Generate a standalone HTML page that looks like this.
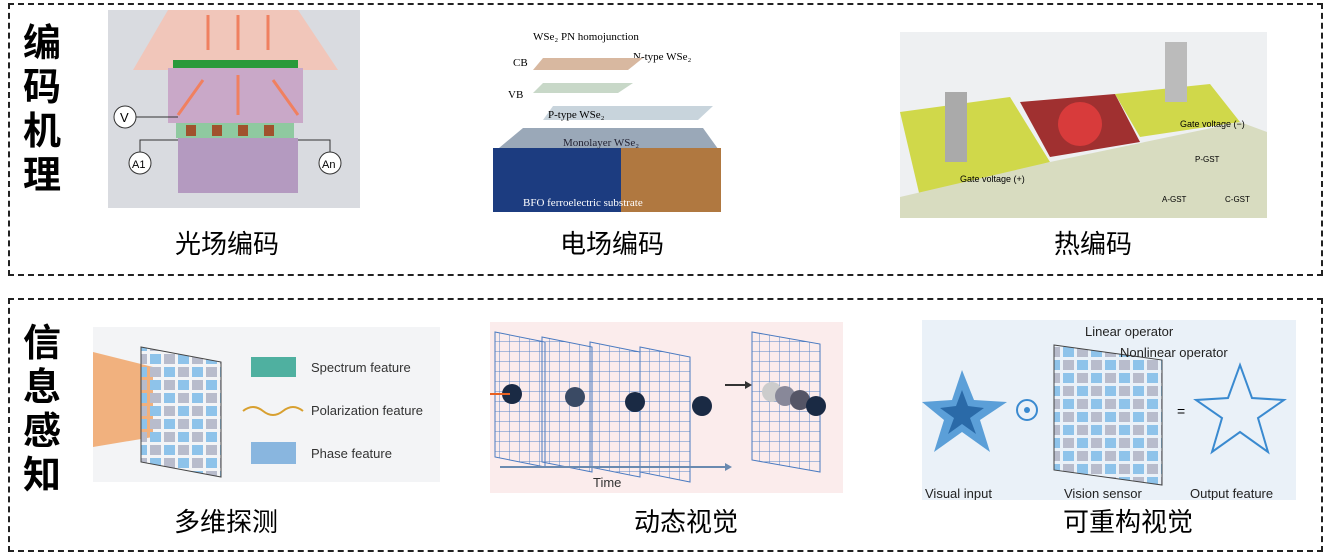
<!DOCTYPE html>
<html><head><meta charset="utf-8"><style>
body{margin:0;width:1327px;height:555px;background:#fff;position:relative;overflow:hidden;font-family:"Liberation Sans","Noto Sans CJK SC",sans-serif}
.box{position:absolute;border:2.5px dashed #222;}
.v{position:absolute;font-size:38px;font-weight:bold;line-height:44px;width:44px;text-align:center;font-family:"Noto Sans CJK SC",sans-serif}
.lab{position:absolute;font-size:26px;transform:translateX(-50%);white-space:nowrap;font-family:"Noto Sans CJK SC",sans-serif}
.p{position:absolute}
</style></head><body>
<svg width="0" height="0" style="position:absolute">
<defs>
<pattern id="grid" width="10" height="10" patternUnits="userSpaceOnUse"><path d="M10,0V10M0,10H10" stroke="#5a86c8" stroke-width="1" fill="none"/></pattern>
<pattern id="cells" width="14" height="13" patternUnits="userSpaceOnUse"><rect x="1" y="1" width="11" height="10" fill="#8ec3ea"/></pattern>
<pattern id="cells2" width="28" height="26" patternUnits="userSpaceOnUse"><rect x="1" y="1" width="11" height="10" fill="#8ec3ea"/><rect x="15" y="1" width="11" height="10" fill="#b8bccc"/><rect x="1" y="14" width="11" height="10" fill="#b8bccc"/><rect x="15" y="14" width="11" height="10" fill="#8ec3ea"/></pattern>
</defs></svg>
<div class="box" style="left:8px;top:3px;width:1311px;height:269px"></div>
<div class="box" style="left:8px;top:298px;width:1311px;height:250px"></div>
<div class="v" style="left:20px;top:18px">编<br>码<br>机<br>理</div>
<div class="v" style="left:20px;top:318px">信<br>息<br>感<br>知</div>

<svg class="p" style="left:108px;top:10px" width="252" height="198">
<rect width="252" height="198" fill="#d9dbe0"/>
<polygon points="60,0 190,0 230,60 25,60" fill="#f6c0b0" opacity=".8"/>
<rect x="65" y="50" width="125" height="8" fill="#2a9a3a"/>
<rect x="60" y="58" width="135" height="55" fill="#c9a8c8"/>
<rect x="68" y="113" width="118" height="15" fill="#8fc9a0"/>
<g fill="#a0522d"><rect x="78" y="115" width="10" height="11"/><rect x="104" y="115" width="10" height="11"/><rect x="130" y="115" width="10" height="11"/><rect x="156" y="115" width="10" height="11"/></g>
<rect x="70" y="128" width="120" height="55" fill="#b49ac0"/>
<circle cx="17" cy="107" r="11" fill="#fff" stroke="#333"/><text x="12" y="112" font-size="13">V</text>
<circle cx="32" cy="153" r="11" fill="#fff" stroke="#333"/><text x="24" y="158" font-size="11">A1</text>
<circle cx="222" cy="153" r="11" fill="#fff" stroke="#333"/><text x="214" y="158" font-size="11">An</text>
<path d="M28,107H70M32,142V130H70M222,142V130H190" stroke="#333" fill="none"/>
<g stroke="#f08060" stroke-width="3"><path d="M130,5V40M100,5V40M160,5V40M130,65V105M95,70L70,105M165,70L190,105"/></g>
</svg>

<svg class="p" style="left:493px;top:28px" width="228" height="184">
<text x="40" y="12" font-size="11" font-family="Liberation Serif">WSe₂ PN homojunction</text>
<text x="20" y="38" font-size="11" font-family="Liberation Serif">CB</text>
<text x="140" y="32" font-size="11" font-family="Liberation Serif">N-type WSe₂</text>
<polygon points="50,30 150,30 135,42 40,42" fill="#d8b8a0"/>
<polygon points="50,55 140,55 125,65 40,65" fill="#c8d8c8"/>
<text x="15" y="70" font-size="11" font-family="Liberation Serif">VB</text>
<polygon points="60,78 220,78 205,92 50,92" fill="#c8d4dc"/>
<text x="55" y="90" font-size="11" font-family="Liberation Serif">P-type WSe₂</text>
<polygon points="30,100 210,100 228,125 0,125" fill="#9aa8b8"/>
<rect x="0" y="120" width="128" height="64" fill="#1c3c80"/>
<rect x="128" y="120" width="100" height="64" fill="#b07840"/>
<text x="70" y="118" font-size="11" font-family="Liberation Serif" fill="#223">Monolayer WSe₂</text>
<text x="30" y="178" font-size="11" font-family="Liberation Serif" fill="#fff">BFO ferroelectric substrate</text>
</svg>

<svg class="p" style="left:900px;top:32px" width="367" height="186">
<rect width="367" height="186" fill="#eef0f2"/>
<polygon points="0,80 110,65 150,130 20,165" fill="#d0d84a"/>
<polygon points="120,70 215,62 240,110 150,125" fill="#a03030"/>
<circle cx="180" cy="92" r="22" fill="#f04040" opacity=".7"/>
<polygon points="215,62 310,52 340,90 240,105" fill="#d0d84a"/>
<path d="M0,165 L150,130 L340,90 L367,100 L367,186 L0,186Z" fill="#d8dcc0"/>
<rect x="45" y="60" width="22" height="70" fill="#aaa"/>
<rect x="265" y="10" width="22" height="60" fill="#bbb"/>
<text x="280" y="95" font-size="9">Gate voltage (−)</text>
<text x="60" y="150" font-size="9">Gate voltage (+)</text>
<text x="295" y="130" font-size="8">P-GST</text>
<text x="262" y="170" font-size="8">A-GST</text><text x="325" y="170" font-size="8">C-GST</text>
</svg>

<div class="lab" style="left:227px;top:224px">光场编码</div>
<div class="lab" style="left:612px;top:224px">电场编码</div>
<div class="lab" style="left:1093px;top:224px">热编码</div>

<svg class="p" style="left:93px;top:327px" width="347" height="155">
<rect width="347" height="155" fill="#f3f4f6"/>
<polygon points="0,25 60,40 60,110 0,120" fill="#f0a060" opacity=".8"/>
<polygon points="48,20 128,35 128,150 48,135" fill="url(#cells2)" stroke="#444"/>
<rect x="158" y="30" width="45" height="20" fill="#4fb0a0"/>
<path d="M150,84 q10,-8 20,0 t20,0 t20,0" stroke="#d8a030" fill="none" stroke-width="2"/>
<rect x="158" y="115" width="45" height="22" fill="#5b9bd5" opacity=".7"/>
<text x="218" y="45" font-size="13" fill="#333">Spectrum feature</text>
<text x="218" y="88" font-size="13" fill="#333">Polarization feature</text>
<text x="218" y="131" font-size="13" fill="#333">Phase feature</text>
</svg>

<svg class="p" style="left:490px;top:322px" width="353" height="171">
<rect width="353" height="171" fill="#fbecec"/>
<g fill="url(#grid)" stroke="#4a7ac0" stroke-width="1">
<polygon points="5,10 55,20 55,145 5,135"/><polygon points="52,15 102,25 102,150 52,140"/>
<polygon points="100,20 150,30 150,155 100,145"/><polygon points="150,25 200,35 200,160 150,150"/>
<polygon points="262,10 330,22 330,150 262,138"/></g>
<circle cx="22" cy="72" r="10" fill="#1a2a44"/><circle cx="85" cy="75" r="10" fill="#3a4a64"/>
<circle cx="145" cy="80" r="10" fill="#1a2a44"/><circle cx="212" cy="84" r="10" fill="#1a2a44"/>
<path d="M0,72H20" stroke="#e86020" stroke-width="2"/>
<circle cx="282" cy="70" r="10" fill="#ccc"/><circle cx="295" cy="74" r="10" fill="#889"/><circle cx="310" cy="78" r="10" fill="#556"/><circle cx="326" cy="84" r="10" fill="#1a2a44"/>
<path d="M235,63H255" stroke="#333" stroke-width="2"/><polygon points="255,59 262,63 255,67" fill="#333"/>
<path d="M10,145H235" stroke="#6a8ab0" stroke-width="2"/><polygon points="235,141 242,145 235,149" fill="#6a8ab0"/>
<text x="103" y="165" font-size="13" fill="#333">Time</text>
</svg>

<svg class="p" style="left:922px;top:320px" width="374" height="180">
<rect width="374" height="180" fill="#eaf1f8"/>
<polygon points="40,50 52,80 85,82 58,100 68,132 40,112 12,132 22,100 0,82 30,80" fill="#5b9fd8"/>
<polygon points="40,70 46,86 62,88 48,98 54,114 40,104 26,114 32,98 18,88 34,86" fill="#2a6aa8"/>
<circle cx="105" cy="90" r="10" fill="none" stroke="#3a8ad0" stroke-width="2"/><circle cx="105" cy="90" r="3" fill="#3a8ad0"/>
<polygon points="132,25 240,40 240,165 132,150" fill="url(#cells2)" stroke="#444"/>
<text x="163" y="16" font-size="13" fill="#222">Linear operator</text>
<text x="198" y="37" font-size="13" fill="#222">Nonlinear operator</text>
<text x="255" y="96" font-size="14">=</text>
<polygon points="318,45 330,78 362,80 336,98 346,132 318,112 290,132 300,98 274,80 306,78" fill="none" stroke="#3a8ad0" stroke-width="2"/>
<text x="3" y="178" font-size="13" fill="#222">Visual input</text>
<text x="142" y="178" font-size="13" fill="#222">Vision sensor</text>
<text x="268" y="178" font-size="13" fill="#222">Output feature</text>
</svg>

<div class="lab" style="left:226px;top:502px">多维探测</div>
<div class="lab" style="left:686px;top:502px">动态视觉</div>
<div class="lab" style="left:1128px;top:502px">可重构视觉</div>
</body></html>
